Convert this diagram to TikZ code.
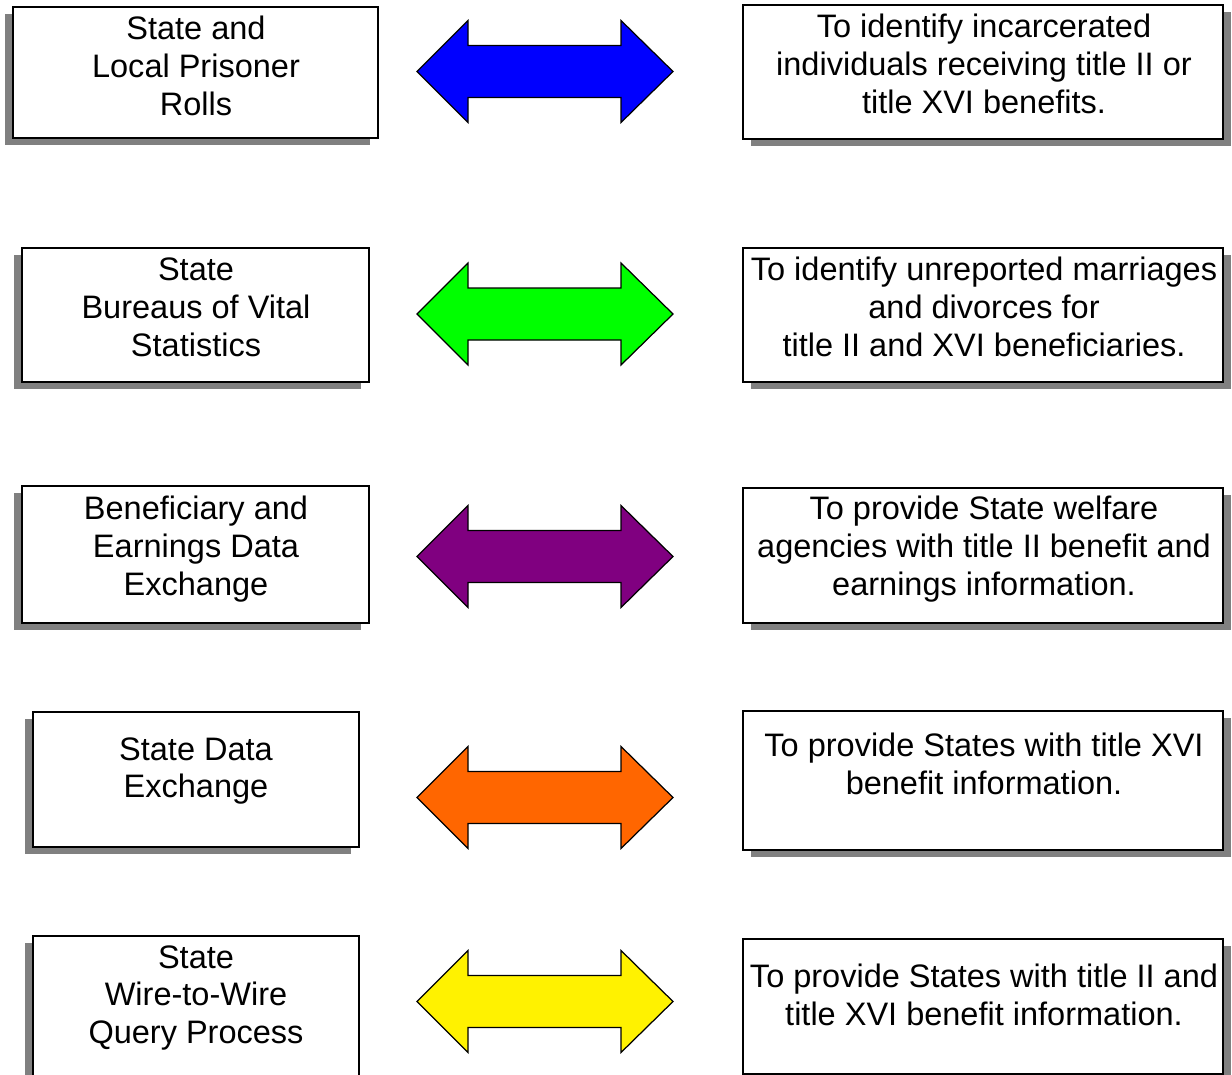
\documentclass[tikz,border=0pt]{standalone}
\usepackage{fontspec}
\setmainfont{Liberation Sans}
\usetikzlibrary{shadows}

\definecolor{arrpurple}{RGB}{128,0,128}
\definecolor{arrorange}{RGB}{255,102,0}

\begin{document}
\begin{tikzpicture}[
    srcbox/.style={draw, line width=0.7pt, fill=white, inner sep=0pt,
      drop shadow={shadow xshift=-0.16cm, shadow yshift=-0.14cm, fill=gray, opacity=1}},
    aimbox/.style={draw, line width=0.7pt, fill=white, inner sep=0pt,
      minimum width=9.6cm,
      drop shadow={shadow xshift=0.16cm, shadow yshift=-0.14cm, fill=gray, opacity=1}},
    txt/.style={align=center, inner sep=0pt, font=\fontsize{18.5}{21.6}\selectfont},
    dblarrow/.style={draw, line width=0.7pt, line join=miter}
  ]
  \useasboundingbox (0,0) rectangle (24.64,-21.5);

  % left boxes
  \node[srcbox, minimum width=7.3cm, minimum height=2.62cm] (src1) at (3.91,-1.45) {};
  \node[srcbox, minimum width=6.94cm, minimum height=2.68cm] (src2) at (3.91,-6.30) {};
  \node[srcbox, minimum width=6.94cm, minimum height=2.74cm] (src3) at (3.91,-11.09) {};
  \node[srcbox, minimum width=6.52cm, minimum height=2.7cm] (src4) at (3.92,-15.59) {};
  \node[srcbox, minimum width=6.52cm, minimum height=3.0cm] (src5) at (3.92,-20.22) {};

  \node[txt] (src1t) at (3.92,-1.31) {State and\\Local Prisoner\\Rolls};
  \node[txt] (src2t) at (3.92,-6.14) {State\\Bureaus of Vital\\Statistics};
  \node[txt] (src3t) at (3.92,-10.98) {Beneficiary and\\Earnings Data\\Exchange};
  \node[txt] (src4t) at (3.92,-15.42) {State Data\\Exchange};
  \node[txt] (src5t) at (3.92,-19.96) {State\\Wire-to-Wire\\Query Process};

  % right boxes
  \node[aimbox, minimum height=2.68cm] (aim1) at (19.66,-1.44) {};
  \node[aimbox, minimum height=2.68cm] (aim2) at (19.66,-6.30) {};
  \node[aimbox, minimum height=2.7cm] (aim3) at (19.66,-11.11) {};
  \node[aimbox, minimum height=2.78cm] (aim4) at (19.66,-15.61) {};
  \node[aimbox, minimum height=2.7cm] (aim5) at (19.66,-20.13) {};

  \node[txt] (aim1t) at (19.68,-1.28) {To identify incarcerated\\individuals receiving title II or\\title XVI benefits.};
  \node[txt] (aim2t) at (19.68,-6.14) {To identify unreported marriages\\and divorces for\\title II and XVI beneficiaries.};
  \node[txt] (aim3t) at (19.68,-10.98) {To provide State welfare\\agencies with title II benefit and\\earnings information.};
  \node[txt] (aim4t) at (19.68,-15.28) {To provide States with title XVI\\benefit information.};
  \node[txt] (aim5t) at (19.68,-19.90) {To provide States with title II and\\title XVI benefit information.};

  % double arrows
  \foreach \y/\c in {-1.43/blue, -6.28/green, -11.13/arrpurple, -15.95/arrorange, -20.03/yellow}
    \draw[dblarrow, fill=\c, yshift=\y cm] (8.34,0) -- (9.36,1.02) -- (9.36,0.52)
      -- (12.42,0.52) -- (12.42,1.02) -- (13.46,0) -- (12.42,-1.02) -- (12.42,-0.52)
      -- (9.36,-0.52) -- (9.36,-1.02) -- cycle;
\end{tikzpicture}
\end{document}
